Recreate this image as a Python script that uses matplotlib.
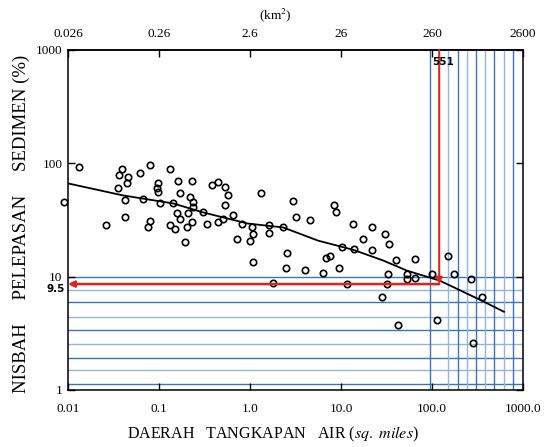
import matplotlib
matplotlib.use("Agg")
import matplotlib.pyplot as plt
from matplotlib.transforms import blended_transform_factory

plt.rcParams['font.family'] = ['Liberation Serif', 'DejaVu Serif']
plt.rcParams['mathtext.fontset'] = 'stix'

# catchment area (sq. miles) vs sediment delivery ratio (%)
area = [0.0132, 0.00904, 0.0392, 0.0363, 0.0456, 0.0445, 0.0618, 0.0796, 0.132, 0.0975,
        0.0951, 0.0975, 0.0354, 0.0423, 0.0667, 0.1026, 0.0423, 0.0262, 0.0796, 0.0757,
        0.132, 0.150, 0.158, 0.170, 0.143, 0.162, 0.170, 0.231, 0.219, 0.237,
        0.237, 0.209, 0.231, 0.203, 0.193, 0.305, 0.336, 0.382, 0.445, 0.531,
        0.573, 0.531, 0.445, 0.505, 0.650, 0.817, 0.720,
        1.32, 1.05, 1.08, 1.00, 1.08, 1.62, 1.62, 2.31, 2.97, 3.20,
        4.56, 2.55, 2.49, 1.79, 4.02, 6.34, 6.84, 7.57, 9.51, 8.38,
        8.81, 10.3, 13.5, 13.9, 17.5, 21.9, 21.9, 30.5, 33.7, 40.2,
        65.0, 11.6, 32.0, 32.8, 53.1, 53.1, 65.0, 28.2, 100.0,
        150, 175, 268, 354, 113, 42.3, 282]
ratio = [92.2, 45.2, 88.5, 78.3, 75.2, 66.5, 81.6, 96.0, 88.5, 66.5,
         60.1, 55.4, 60.1, 47.1, 48.0, 44.3, 33.3, 28.3, 30.7, 27.2,
         28.3, 26.1, 36.1, 32.6, 44.3, 69.3, 54.3, 69.3, 50.0, 45.2,
         40.8, 36.1, 30.1, 27.2, 20.4, 36.9, 29.4, 63.8, 67.9, 61.3,
         52.1, 42.5, 30.1, 32.6, 34.7, 28.9, 21.3,
         54.3, 27.2, 24.0, 20.8, 13.6, 28.3, 24.5, 27.2, 46.1, 33.3,
         31.9, 16.3, 12.0, 8.85, 11.5, 10.8, 14.7, 15.3, 12.0, 42.5,
         36.9, 18.1, 29.4, 17.7, 21.7, 27.7, 17.3, 24.0, 19.6, 13.9,
         14.4, 8.67, 8.67, 10.6, 10.6, 9.60, 9.80, 6.65, 10.6,
         15.3, 10.6, 9.6, 6.65, 4.16, 3.76, 2.61]

# fitted curve
curve_x = [0.01, 0.0402, 0.143, 0.305, 0.95, 2.31, 5.59, 13.5, 29.0, 53.1, 122, 354, 618]
curve_y = [66.5, 52.1, 44.3, 36.9, 29.4, 27.2, 20.8, 17.3, 13.9, 11.3, 9.22, 6.13, 4.90]

x_ticks = [0.01, 0.1, 1, 10, 100, 1000]
x_labels = ['0.01', '0.1', '1.0', '10.0', '100.0', '1000.0']
km_labels = ['0.026', '0.26', '2.6', '26', '260', '2600']
y_ticks = [1, 10, 100, 1000]
y_labels = ['1', '10', '100', '1000']

# hand-drawn reading grid
h_lines = [10, 7.67, 5.93, 4.42, 3.37, 2.57, 1.91, 1.49, 1.13]
v_lines = [95, 149, 192, 240, 308, 386, 484, 622, 780, 1000]
read_x = 120
read_y = 8.6

dark = '#3f72b8'
light = '#93b6de'

fig = plt.figure(figsize=(5.46, 4.47), dpi=100)
ax = fig.add_axes([68/546, 57/447, 455/546, 340/447])
ax.set_xscale('log')
ax.set_yscale('log')
ax.set_xlim(0.01, 1000)
ax.set_ylim(1, 1000)

for i, h in enumerate(h_lines):
    ax.axhline(h, color=dark if i % 2 == 0 else light, lw=1.0, zorder=1)
for i, v in enumerate(v_lines):
    ax.axvline(v, color=dark if i % 2 == 0 else light, lw=1.0, zorder=1)

ax.plot(area, ratio, 'o', mfc='none', mec='black', ms=4.6, mew=1.2,
        clip_on=False, zorder=3)
ax.plot(curve_x, curve_y, color='black', lw=1.3, zorder=2)

# red reading arrows
ax.annotate('', xy=(read_x, read_y), xytext=(read_x, 1000),
            arrowprops=dict(arrowstyle='-|>', color='#e0221c', lw=1.5,
                            mutation_scale=9, shrinkA=0, shrinkB=0), zorder=4)
ax.annotate('', xy=(0.01, read_y), xytext=(read_x, read_y),
            arrowprops=dict(arrowstyle='-|>', color='#e0221c', lw=1.8,
                            mutation_scale=9, shrinkA=0, shrinkB=0), zorder=4)
ax.text(100, 780, '551', fontsize=7.5, fontweight='bold', family='DejaVu Sans',
        ha='left', va='center', zorder=5)
trans = blended_transform_factory(ax.transAxes, ax.transData)
ax.text(-0.006, read_y, '9.5', fontsize=7.5, fontweight='bold', family='DejaVu Sans',
        ha='right', va='top', transform=trans, zorder=5)

ax.set_xticks(x_ticks)
ax.set_xticklabels(x_labels)
ax.set_yticks(y_ticks)
ax.set_yticklabels(y_labels)
ax.minorticks_off()
ax.tick_params(which='major', direction='in', length=5, width=1.0,
               top=False, right=True, labelsize=9.5, pad=4)
ax.tick_params(axis='x', pad=9)

top = ax.secondary_xaxis('top', functions=(lambda x: x * 2.59, lambda x: x / 2.59))
top.set_xticks([t * 2.59 for t in x_ticks])
top.set_xticklabels(km_labels)
top.minorticks_off()
top.tick_params(direction='in', length=5, width=1.0, labelsize=9.5, pad=7)

for s in ax.spines.values():
    s.set_linewidth(1.1)
top.spines['top'].set_linewidth(1.1)

fig.text(275/546, 1 - 15/447, r'(km$^2$)', fontsize=9.5, ha='center', va='center')
fig.text(273/546, 1 - 434/447, r'DAERAH   TANGKAPAN   AIR (${\it sq.\ miles}$)',
         fontsize=11.5, ha='center', va='center')
fig.text(21/546, 1 - 224/447, 'NISBAH     PELEPASAN     SEDIMEN (%)',
         fontsize=13.5, rotation=90, ha='center', va='center')

fig.savefig('out.png', dpi=100)
